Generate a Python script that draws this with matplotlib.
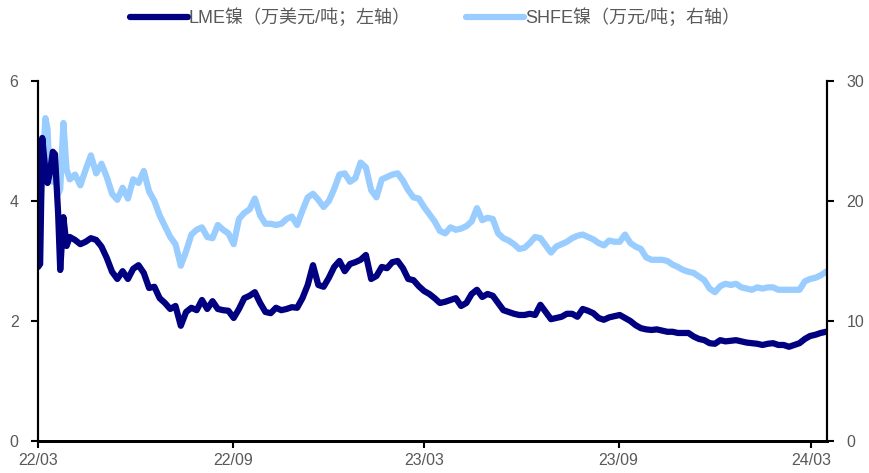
import matplotlib
matplotlib.use('agg')
import matplotlib.pyplot as plt
import matplotlib.dates as mdates
import pandas as pd

plt.rcParams['font.family'] = ['Liberation Sans', 'Noto Sans CJK SC', 'DejaVu Sans']

# March 2022 squeeze, a few trading days
early_dates = ['2022-03-01', '2022-03-03', '2022-03-05', '2022-03-08', '2022-03-10', '2022-03-12',
               '2022-03-15', '2022-03-17', '2022-03-20', '2022-03-22', '2022-03-25', '2022-03-28']
early_lme = [2.90, 2.95, 5.05, 4.50, 4.30, 4.45, 4.82, 4.78, 3.80, 2.85, 3.73, 3.25]
early_shfe = [18.6, 18.8, 22.5, 26.9, 26.0, 22.0, 21.6, 23.3, 20.6, 21.0, 26.5, 22.6]

# after that, every 5 days from 2022-03-31
lme = [
    3.40, 3.35, 3.28, 3.32, 3.38, 3.35, 3.24, 3.05, 2.82, 2.70,
    2.83, 2.70, 2.87, 2.93, 2.80, 2.55, 2.57, 2.38, 2.30, 2.20,
    2.25, 1.92, 2.15, 2.22, 2.18, 2.35, 2.20, 2.33, 2.20, 2.18,
    2.17, 2.05, 2.20, 2.38, 2.42, 2.48, 2.30, 2.15, 2.13, 2.22,
    2.18, 2.20, 2.23, 2.22, 2.38, 2.60, 2.93, 2.60, 2.57, 2.72,
    2.90, 3.00, 2.83, 2.95, 2.98, 3.02, 3.10, 2.70, 2.75, 2.90,
    2.88, 2.98, 3.00, 2.88, 2.70, 2.68, 2.58, 2.50, 2.45, 2.38,
    2.30, 2.32, 2.35, 2.38, 2.25, 2.30, 2.45, 2.52, 2.40, 2.45,
    2.42, 2.30, 2.18, 2.15, 2.12, 2.10, 2.10, 2.12, 2.10, 2.27,
    2.15, 2.03, 2.05, 2.07, 2.12, 2.12, 2.07, 2.20, 2.17, 2.13,
    2.05, 2.02, 2.06, 2.08, 2.10, 2.05, 2.00, 1.93, 1.88, 1.86,
    1.85, 1.86, 1.84, 1.82, 1.82, 1.80, 1.80, 1.80, 1.74, 1.70,
    1.68, 1.63, 1.62, 1.68, 1.66, 1.67, 1.68, 1.66, 1.64, 1.63,
    1.62, 1.60, 1.62, 1.63, 1.60, 1.60, 1.57, 1.60, 1.63, 1.70,
    1.75, 1.77, 1.80, 1.82]
shfe = [
    21.8, 22.2, 21.3, 22.6, 23.8, 22.3, 23.1, 22.0, 20.6, 20.1,
    21.1, 20.2, 21.8, 21.5, 22.5, 20.8, 20.0, 18.8, 17.9, 17.0,
    16.4, 14.6, 15.8, 17.2, 17.6, 17.8, 17.0, 16.9, 18.0, 17.6,
    17.3, 16.4, 18.5, 19.0, 19.3, 20.2, 18.8, 18.1, 18.1, 18.0,
    18.1, 18.5, 18.7, 18.0, 19.2, 20.3, 20.6, 20.1, 19.5, 20.0,
    21.0, 22.2, 22.3, 21.6, 21.9, 23.2, 22.8, 20.9, 20.3, 21.8,
    22.0, 22.2, 22.3, 21.7, 20.9, 20.3, 20.2, 19.5, 18.9, 18.3,
    17.5, 17.3, 17.8, 17.6, 17.7, 17.9, 18.3, 19.4, 18.4, 18.6,
    18.5, 17.3, 16.9, 16.7, 16.4, 16.0, 16.1, 16.5, 17.0, 16.9,
    16.3, 15.7, 16.2, 16.4, 16.6, 16.9, 17.1, 17.2, 17.0, 16.8,
    16.5, 16.3, 16.7, 16.6, 16.6, 17.2, 16.5, 16.2, 16.0, 15.3,
    15.1, 15.1, 15.1, 15.0, 14.7, 14.5, 14.25, 14.1, 14.0, 13.7,
    13.4, 12.7, 12.4, 12.9, 13.1, 13.0, 13.1, 12.8, 12.7, 12.6,
    12.8, 12.7, 12.8, 12.8, 12.6, 12.6, 12.6, 12.6, 12.6, 13.3,
    13.5, 13.6, 13.8, 14.1]

dates = list(pd.to_datetime(early_dates)) + list(pd.date_range('2022-03-31', periods=len(lme), freq='5D'))
lme_all = early_lme + lme
shfe_all = early_shfe + shfe

tick_dates = pd.to_datetime(['2022-03-01', '2022-09-01', '2023-03-01', '2023-09-01', '2024-03-01'])
label_lme = 'LME镍（万美元/吨；左轴）'
label_shfe = 'SHFE镍（万元/吨；右轴）'

grey = '#595959'
navy = '#000080'
light = '#99CCFF'

fig = plt.figure(figsize=(8.7, 4.73), dpi=100)
ax = fig.add_axes([0.0437, 0.0677, 0.9069, 0.7611])
ax2 = ax.twinx()

l2, = ax2.plot(dates, shfe_all, color=light, lw=4.5, solid_capstyle='round', solid_joinstyle='round')
l1, = ax.plot(dates, lme_all, color=navy, lw=4.5, solid_capstyle='round', solid_joinstyle='round')

# keep the LME line above the SHFE one
ax.set_zorder(ax2.get_zorder() + 1)
ax.patch.set_visible(False)

ax.set_ylim(0, 6)
ax.set_yticks([0, 2, 4, 6])
ax2.set_ylim(0, 30)
ax2.set_yticks([0, 10, 20, 30])
ax.set_xlim(pd.Timestamp('2022-03-01'), pd.Timestamp('2024-03-16'))
ax.set_xticks(tick_dates)
ax.xaxis.set_major_formatter(mdates.DateFormatter('%y/%m'))

for a in (ax, ax2):
    a.spines['top'].set_visible(False)
    a.spines['left'].set_linewidth(1.5)
    a.spines['right'].set_linewidth(1.5)
    a.spines['bottom'].set_linewidth(2)
    a.tick_params(direction='out', length=5, width=1.5, colors='black',
                  labelcolor=grey, labelsize=11.5, pad=9)
ax.tick_params(axis='x', pad=4)

fig.legend([l1, l2], [label_lme, label_shfe], loc='center', bbox_to_anchor=(0.5, 0.962),
           ncol=2, frameon=False, fontsize=13, handlelength=3.2, handletextpad=0.05,
           columnspacing=3.1, labelcolor=grey)

plt.savefig('out.png', dpi=100)
